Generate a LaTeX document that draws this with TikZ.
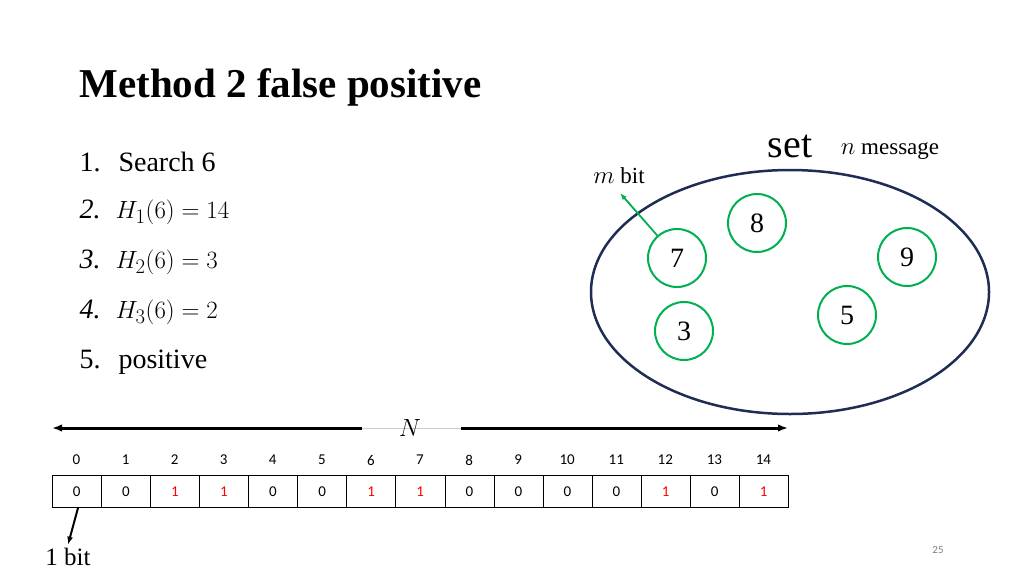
\documentclass[tikz,border=0pt]{standalone}
\usepackage{fontspec}
\setmainfont{Liberation Serif}
\newfontfamily\carl{Carlito}
\usetikzlibrary{arrows.meta,shapes.geometric}
\definecolor{navy}{RGB}{31,45,84}
\definecolor{grn}{RGB}{0,176,80}
\begin{document}
\begin{tikzpicture}[x=1pt,y=-1pt,
  cell/.style={draw,minimum width=49.07pt,minimum height=32pt,inner sep=0pt,anchor=north west,font=\carl\fontsize{15}{15}\selectfont},
  idx/.style={font=\carl\fontsize{15}{15}\selectfont},
  elem/.style={draw=grn,line width=2pt,circle,minimum size=58pt,inner sep=0pt,font=\fontsize{28}{28}\selectfont},
  item/.style={anchor=west,font=\fontsize{28}{30}\selectfont},
  mitem/.style={anchor=west,font=\fontsize{33}{34}\selectfont}]
\useasboundingbox (0,0) rectangle (1024,576);
\node[anchor=west,font=\bfseries\fontsize{41}{43}\selectfont] (title) at (76,87) {Method 2 false positive};
\node[item] (l1) at (76,162) {1.\hspace{18pt}Search 6};
\node[mitem] (l2) at (76,212) {\fontsize{28}{30}\selectfont\textit{2.}\hspace{15pt}$H_1(6)=14$};
\node[mitem] (l3) at (76,262) {\fontsize{28}{30}\selectfont\textit{3.}\hspace{15pt}$H_2(6)=3$};
\node[mitem] (l4) at (76,312) {\fontsize{28}{30}\selectfont\textit{4.}\hspace{15pt}$H_3(6)=2$};
\node[item] (l5) at (76,362) {5.\hspace{18pt}positive};
\node[draw=navy,line width=2.5pt,ellipse,minimum width=398pt,minimum height=244pt] (set) at (790,292) {};
\node[font=\fontsize{40}{42}\selectfont] (setl) at (790,146) {set};
\node[font=\fontsize{23}{24}\selectfont] (nm) at (890,151) {$n$ message};
\node[font=\fontsize{23}{24}\selectfont] (mb) at (619,176) {$m$ bit};
\node[elem] (e8) at (757,223) {8};
\node[elem] (e7) at (677,258) {7};
\node[elem] (e9) at (907,257) {9};
\node[elem] (e5) at (847,315) {5};
\node[elem] (e3) at (684,331) {3};
\coordinate (mt) at (620,193);
\draw[grn,line width=1.8pt,-{Latex[length=7pt]}] (e7) -- (mt);
\foreach \i/\v/\c in {0/0/black,1/0/black,2/1/red,3/1/red,4/0/black,5/0/black,6/1/red,7/1/red,8/0/black,9/0/black,10/0/black,11/0/black,12/1/red,13/0/black,14/1/red}{
  \node[cell,text=\c] (c\i) at ({52+49.07*\i},475) {\v};
  \node[idx] (i\i) at ({76.5+49.07*\i},460) {\i};
}
\coordinate (N) at (410,428);
\coordinate (L) at (52,428); \coordinate (R) at (788,428);
\coordinate (NL) at (362,428); \coordinate (NR) at (461,428);
\draw[gray!40,line width=1pt] (NL) -- (NR);
\draw[line width=3pt,-{Latex[length=10pt]}] (NL) -- (L);
\draw[line width=3pt,-{Latex[length=10pt]}] (NR) -- (R);
\node[font=\fontsize{26}{26}\selectfont,inner sep=1pt] (Nl) at (N) {$N$};
\node[font=\fontsize{25}{25}\selectfont] (bit) at (68,557) {1 bit};
\coordinate (bs) at (78,508);
\draw[line width=2pt,-{Latex[length=8pt]}] (bs) -- (bit.north);
\node[font=\carl\fontsize{11}{11}\selectfont,text=gray] (pg) at (938,550) {25};
\end{tikzpicture}
\end{document}
